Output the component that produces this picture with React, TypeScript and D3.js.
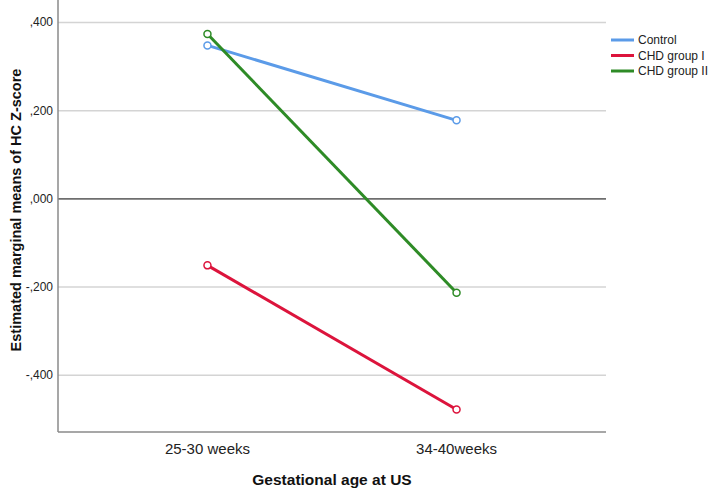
import * as d3 from 'd3';

const categories = ['25-30 weeks', '34-40weeks'];
const seriesNames = ['Control', 'CHD group I', 'CHD group II'];
const control = [0.348, 0.178];
const chdGroupI = [-0.151, -0.478];
const chdGroupII = [0.374, -0.213];
const yTicks = [0.4, 0.2, 0, -0.2, -0.4];

const colors = ['#5b9be8', '#dc143c', '#2e8b26'];

// SPSS style: ",400" / "-,200"
const fmt = (v: number) => (v < 0 ? '-' : '') + ',' + Math.abs(v).toFixed(3).slice(2);

export default function App() {
  const width = 709;
  const height = 488;
  const plot = { left: 58, right: 606, top: 0, bottom: 432 };

  const x = d3.scalePoint<string>().domain(categories).range([plot.left, plot.right]).padding(0.6);
  const y = d3.scaleLinear().domain([-0.529, 0.451]).range([plot.bottom, plot.top]);

  const series = [control, chdGroupI, chdGroupII];
  const line = d3
    .line<number>()
    .x((_, i) => x(categories[i]) as number)
    .y((d) => y(d));

  const font = '"Liberation Sans", Arial, sans-serif';

  return (
    <svg
      width={width}
      height={height}
      style={{ position: 'absolute', left: 0, top: 0, background: '#fff' }}
      fontFamily={font}
    >
      {yTicks
        .filter((t) => t !== 0)
        .map((t) => (
          <line key={t} x1={plot.left} x2={plot.right} y1={y(t)} y2={y(t)} stroke="#d4d4d4" strokeWidth={1.5} />
        ))}
      <line x1={plot.left} x2={plot.right} y1={y(0)} y2={y(0)} stroke="#6e6e6e" strokeWidth={1.8} />
      <line x1={plot.left} x2={plot.left} y1={plot.top} y2={plot.bottom} stroke="#8a8a8a" strokeWidth={1.5} />
      <line x1={plot.left} x2={plot.right} y1={plot.bottom} y2={plot.bottom} stroke="#8a8a8a" strokeWidth={1.5} />

      {yTicks.map((t) => (
        <text key={t} x={53} y={y(t) + 4} textAnchor="end" fontSize={12} fill="#222">
          {fmt(t)}
        </text>
      ))}

      {categories.map((c) => (
        <text key={c} x={x(c)} y={454} textAnchor="middle" fontSize={15} fill="#222">
          {c}
        </text>
      ))}

      <text x={332} y={485} textAnchor="middle" fontSize={15.5} fontWeight="bold" fill="#111">
        Gestational age at US
      </text>
      <text
        transform={`translate(21,${(plot.top + plot.bottom) / 2 - 6}) rotate(-90)`}
        textAnchor="middle"
        fontSize={14.5}
        fontWeight="bold"
        fill="#111"
      >
        Estimated marginal means of HC Z-score
      </text>

      {series.map((s, i) => (
        <g key={seriesNames[i]}>
          <path d={line(s) ?? ''} fill="none" stroke={colors[i]} strokeWidth={3} />
          {s.map((v, j) => (
            <circle
              key={j}
              cx={x(categories[j])}
              cy={y(v)}
              r={3.5}
              fill="#fff"
              stroke={colors[i]}
              strokeWidth={1.5}
            />
          ))}
        </g>
      ))}

      {seriesNames.map((name, i) => (
        <g key={name} transform={`translate(611,${40 + i * 15.5})`}>
          <line x1={0} x2={23} y1={0} y2={0} stroke={colors[i]} strokeWidth={3} />
          <text x={27} y={4} fontSize={12} fill="#222">
            {name}
          </text>
        </g>
      ))}
    </svg>
  );
}
